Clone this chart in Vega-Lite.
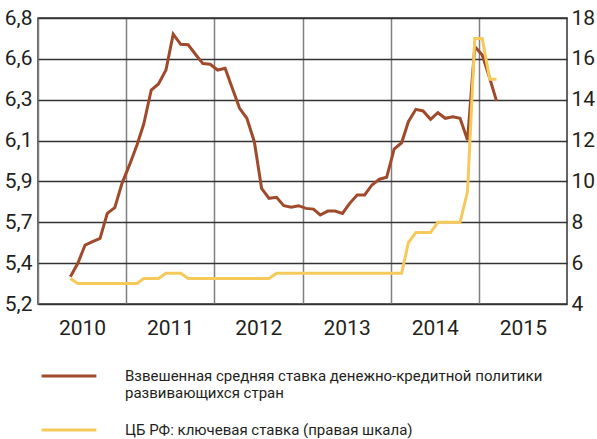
{
  "$schema": "https://vega.github.io/schema/vega-lite/v6.json",
  "width": 529,
  "height": 286,
  "autosize": {"type": "none"},
  "padding": {"left": 38, "top": 18, "right": 30, "bottom": 135},
  "background": "white",
  "config": {
    "font": "Roboto",
    "view": {"stroke": "#333333", "strokeWidth": 1.5},
    "axis": {"labelColor": "#231f20", "labelFontSize": 21, "ticks": false, "domain": false, "title": null}
  },
  "data": {"values": [
    {"d": "2010-05-15", "s": "ems", "v": 5.353},
    {"d": "2010-06-15", "s": "ems", "v": 5.428},
    {"d": "2010-07-15", "s": "ems", "v": 5.53},
    {"d": "2010-08-15", "s": "ems", "v": 5.549},
    {"d": "2010-09-15", "s": "ems", "v": 5.567},
    {"d": "2010-10-15", "s": "ems", "v": 5.707},
    {"d": "2010-11-15", "s": "ems", "v": 5.739},
    {"d": "2010-12-15", "s": "ems", "v": 5.875},
    {"d": "2011-01-15", "s": "ems", "v": 5.978},
    {"d": "2011-02-15", "s": "ems", "v": 6.09},
    {"d": "2011-03-15", "s": "ems", "v": 6.207},
    {"d": "2011-04-15", "s": "ems", "v": 6.397},
    {"d": "2011-05-15", "s": "ems", "v": 6.431},
    {"d": "2011-06-15", "s": "ems", "v": 6.509},
    {"d": "2011-07-15", "s": "ems", "v": 6.71},
    {"d": "2011-08-15", "s": "ems", "v": 6.653},
    {"d": "2011-09-15", "s": "ems", "v": 6.65},
    {"d": "2011-10-15", "s": "ems", "v": 6.597},
    {"d": "2011-11-15", "s": "ems", "v": 6.545},
    {"d": "2011-12-15", "s": "ems", "v": 6.541},
    {"d": "2012-01-15", "s": "ems", "v": 6.509},
    {"d": "2012-02-15", "s": "ems", "v": 6.519},
    {"d": "2012-03-15", "s": "ems", "v": 6.41},
    {"d": "2012-04-15", "s": "ems", "v": 6.295},
    {"d": "2012-05-15", "s": "ems", "v": 6.239},
    {"d": "2012-06-15", "s": "ems", "v": 6.108},
    {"d": "2012-07-15", "s": "ems", "v": 5.847},
    {"d": "2012-08-15", "s": "ems", "v": 5.791},
    {"d": "2012-09-15", "s": "ems", "v": 5.797},
    {"d": "2012-10-15", "s": "ems", "v": 5.75},
    {"d": "2012-11-15", "s": "ems", "v": 5.741},
    {"d": "2012-12-15", "s": "ems", "v": 5.75},
    {"d": "2013-01-15", "s": "ems", "v": 5.735},
    {"d": "2013-02-15", "s": "ems", "v": 5.731},
    {"d": "2013-03-15", "s": "ems", "v": 5.698},
    {"d": "2013-04-15", "s": "ems", "v": 5.72},
    {"d": "2013-05-15", "s": "ems", "v": 5.72},
    {"d": "2013-06-15", "s": "ems", "v": 5.707},
    {"d": "2013-07-15", "s": "ems", "v": 5.763},
    {"d": "2013-08-15", "s": "ems", "v": 5.81},
    {"d": "2013-09-15", "s": "ems", "v": 5.81},
    {"d": "2013-10-15", "s": "ems", "v": 5.866},
    {"d": "2013-11-15", "s": "ems", "v": 5.898},
    {"d": "2013-12-15", "s": "ems", "v": 5.909},
    {"d": "2014-01-15", "s": "ems", "v": 6.067},
    {"d": "2014-02-15", "s": "ems", "v": 6.102},
    {"d": "2014-03-15", "s": "ems", "v": 6.22},
    {"d": "2014-04-15", "s": "ems", "v": 6.289},
    {"d": "2014-05-15", "s": "ems", "v": 6.28},
    {"d": "2014-06-15", "s": "ems", "v": 6.233},
    {"d": "2014-07-15", "s": "ems", "v": 6.27},
    {"d": "2014-08-15", "s": "ems", "v": 6.239},
    {"d": "2014-09-15", "s": "ems", "v": 6.248},
    {"d": "2014-10-15", "s": "ems", "v": 6.239},
    {"d": "2014-11-15", "s": "ems", "v": 6.117},
    {"d": "2014-12-15", "s": "ems", "v": 6.64},
    {"d": "2015-01-15", "s": "ems", "v": 6.593},
    {"d": "2015-02-15", "s": "ems", "v": 6.463},
    {"d": "2015-03-15", "s": "ems", "v": 6.336},
    {"d": "2010-05-15", "s": "cbr", "v": 5.25},
    {"d": "2010-06-15", "s": "cbr", "v": 5.0},
    {"d": "2010-07-15", "s": "cbr", "v": 5.0},
    {"d": "2010-08-15", "s": "cbr", "v": 5.0},
    {"d": "2010-09-15", "s": "cbr", "v": 5.0},
    {"d": "2010-10-15", "s": "cbr", "v": 5.0},
    {"d": "2010-11-15", "s": "cbr", "v": 5.0},
    {"d": "2010-12-15", "s": "cbr", "v": 5.0},
    {"d": "2011-01-15", "s": "cbr", "v": 5.0},
    {"d": "2011-02-15", "s": "cbr", "v": 5.0},
    {"d": "2011-03-15", "s": "cbr", "v": 5.25},
    {"d": "2011-04-15", "s": "cbr", "v": 5.25},
    {"d": "2011-05-15", "s": "cbr", "v": 5.25},
    {"d": "2011-06-15", "s": "cbr", "v": 5.5},
    {"d": "2011-07-15", "s": "cbr", "v": 5.5},
    {"d": "2011-08-15", "s": "cbr", "v": 5.5},
    {"d": "2011-09-15", "s": "cbr", "v": 5.25},
    {"d": "2011-10-15", "s": "cbr", "v": 5.25},
    {"d": "2011-11-15", "s": "cbr", "v": 5.25},
    {"d": "2011-12-15", "s": "cbr", "v": 5.25},
    {"d": "2012-01-15", "s": "cbr", "v": 5.25},
    {"d": "2012-02-15", "s": "cbr", "v": 5.25},
    {"d": "2012-03-15", "s": "cbr", "v": 5.25},
    {"d": "2012-04-15", "s": "cbr", "v": 5.25},
    {"d": "2012-05-15", "s": "cbr", "v": 5.25},
    {"d": "2012-06-15", "s": "cbr", "v": 5.25},
    {"d": "2012-07-15", "s": "cbr", "v": 5.25},
    {"d": "2012-08-15", "s": "cbr", "v": 5.25},
    {"d": "2012-09-15", "s": "cbr", "v": 5.5},
    {"d": "2012-10-15", "s": "cbr", "v": 5.5},
    {"d": "2012-11-15", "s": "cbr", "v": 5.5},
    {"d": "2012-12-15", "s": "cbr", "v": 5.5},
    {"d": "2013-01-15", "s": "cbr", "v": 5.5},
    {"d": "2013-02-15", "s": "cbr", "v": 5.5},
    {"d": "2013-03-15", "s": "cbr", "v": 5.5},
    {"d": "2013-04-15", "s": "cbr", "v": 5.5},
    {"d": "2013-05-15", "s": "cbr", "v": 5.5},
    {"d": "2013-06-15", "s": "cbr", "v": 5.5},
    {"d": "2013-07-15", "s": "cbr", "v": 5.5},
    {"d": "2013-08-15", "s": "cbr", "v": 5.5},
    {"d": "2013-09-15", "s": "cbr", "v": 5.5},
    {"d": "2013-10-15", "s": "cbr", "v": 5.5},
    {"d": "2013-11-15", "s": "cbr", "v": 5.5},
    {"d": "2013-12-15", "s": "cbr", "v": 5.5},
    {"d": "2014-01-15", "s": "cbr", "v": 5.5},
    {"d": "2014-02-15", "s": "cbr", "v": 5.5},
    {"d": "2014-03-15", "s": "cbr", "v": 7.0},
    {"d": "2014-04-15", "s": "cbr", "v": 7.5},
    {"d": "2014-05-15", "s": "cbr", "v": 7.5},
    {"d": "2014-06-15", "s": "cbr", "v": 7.5},
    {"d": "2014-07-15", "s": "cbr", "v": 8.0},
    {"d": "2014-08-15", "s": "cbr", "v": 8.0},
    {"d": "2014-09-15", "s": "cbr", "v": 8.0},
    {"d": "2014-10-15", "s": "cbr", "v": 8.0},
    {"d": "2014-11-15", "s": "cbr", "v": 9.5},
    {"d": "2014-12-15", "s": "cbr", "v": 17.0},
    {"d": "2015-01-15", "s": "cbr", "v": 17.0},
    {"d": "2015-02-15", "s": "cbr", "v": 15.0},
    {"d": "2015-03-15", "s": "cbr", "v": 15.0}
  ]},
  "encoding": {
    "x": {
      "field": "d", "type": "temporal",
      "scale": {"domain": [{"year": 2010, "month": 1, "date": 1}, {"year": 2016, "month": 1, "date": 1}]},
      "axis": {
        "values": [{"year": 2010, "month": 1, "date": 1}, {"year": 2011, "month": 1, "date": 1}, {"year": 2012, "month": 1, "date": 1}, {"year": 2013, "month": 1, "date": 1}, {"year": 2014, "month": 1, "date": 1}, {"year": 2015, "month": 1, "date": 1}],
        "format": "%Y", "labelOffset": 44, "labelPadding": 13, "labelAlign": "center",
        "grid": true, "gridColor": "#7f7f7f", "gridWidth": 1.5
      }
    },
    "color": {
      "field": "s", "type": "nominal",
      "scale": {"domain": ["ems", "cbr"], "range": ["#a04a2c", "#f6c95b"]},
      "legend": {
        "orient": "none", "legendX": 2, "legendY": 329, "direction": "vertical", "title": null,
        "padding": 0, "symbolType": "stroke", "symbolSize": 3000, "symbolStrokeWidth": 3,
        "labelFontSize": 15, "labelOffset": 27, "labelLimit": 600, "labelColor": "#231f20",
        "rowPadding": -1,
        "labelExpr": "datum.value == 'ems' ? ['Взвешенная средняя ставка денежно-кредитной политики', 'развивающихся стран'] : 'ЦБ РФ: ключевая ставка (правая шкала)'"
      }
    }
  },
  "layer": [
    {
      "transform": [{"filter": "datum.s == 'ems'"}],
      "mark": {"type": "line", "strokeWidth": 3},
      "encoding": {
        "y": {
          "field": "v", "type": "quantitative",
          "scale": {"domain": [5.2, 6.8], "nice": false, "zero": false},
          "axis": {
            "values": [5.2, 5.428571, 5.657143, 5.885714, 6.114286, 6.342857, 6.571429, 6.8],
            "labelExpr": "replace(format(datum.value, '.1f'), '.', ',')",
            "labelPadding": 6, "grid": true, "gridColor": "#333333", "gridWidth": 1.5
          }
        }
      }
    },
    {
      "transform": [{"filter": "datum.s == 'cbr'"}],
      "mark": {"type": "line", "strokeWidth": 3},
      "encoding": {
        "y": {
          "field": "v", "type": "quantitative",
          "scale": {"domain": [4, 18], "nice": false, "zero": false},
          "axis": {
            "orient": "right", "values": [4, 6, 8, 10, 12, 14, 16, 18],
            "labelPadding": 4, "grid": false
          }
        }
      }
    }
  ],
  "resolve": {"scale": {"y": "independent"}}
}
